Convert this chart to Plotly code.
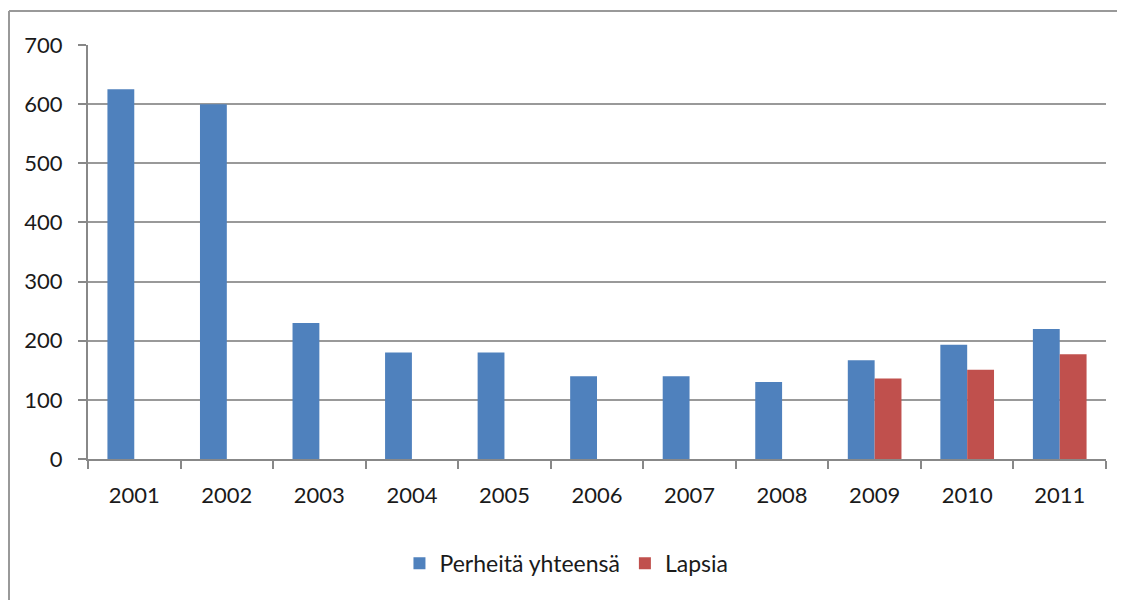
import plotly.graph_objects as go

years = ["2001", "2002", "2003", "2004", "2005", "2006", "2007", "2008", "2009", "2010", "2011"]
perheita = [625, 600, 230, 180, 180, 140, 140, 130, 167, 193, 220]
lapsia = [None, None, None, None, None, None, None, None, 136, 151, 177]

BLUE = "#4F81BD"
RED = "#C0504D"
FONT = "Lato, 'Open Sans', sans-serif"

fig = go.Figure()
fig.add_trace(go.Bar(x=years, y=perheita, name="Perheitä yhteensä", marker=dict(color=BLUE, line=dict(width=0))))
fig.add_trace(go.Bar(x=years, y=lapsia, name="Lapsia", marker=dict(color=RED, line=dict(width=0))))

fig.update_layout(
    width=1117, height=592,
    margin=dict(l=80, r=19, t=37, b=141),
    paper_bgcolor="white", plot_bgcolor="white",
    barmode="group", bargap=0.42, bargroupgap=0,
    font=dict(family=FONT, size=22, color="#1a1a1a"),
    showlegend=True,
    legend=dict(orientation="h", x=0.47, xanchor="center", y=-0.2, yanchor="top",
                font=dict(size=23), traceorder="normal", itemwidth=30),
    xaxis=dict(type="category", showline=True, linecolor="#888", linewidth=2,
               ticks="outside", tickson="boundaries", ticklen=8, tickwidth=2, tickcolor="#888",
               showgrid=False, ticklabelstandoff=16),
    yaxis=dict(range=[0, 700], dtick=100, showline=True, linecolor="#888", linewidth=2,
               ticks="outside", ticklen=8, tickwidth=2, tickcolor="#888",
               showgrid=True, gridcolor="#999", gridwidth=2, zeroline=False,
               ticklabelstandoff=11),
    shapes=[
        dict(type="line", xref="paper", yref="paper", x0=-0.0776, x1=1.02, y0=1.082, y1=1.082,
             line=dict(color="#999", width=2)),
        dict(type="line", xref="paper", yref="paper", x0=-0.0776, x1=-0.0776, y0=1.082, y1=-0.4,
             line=dict(color="#999", width=2)),
    ],
)

fig.write_html("out.html")
